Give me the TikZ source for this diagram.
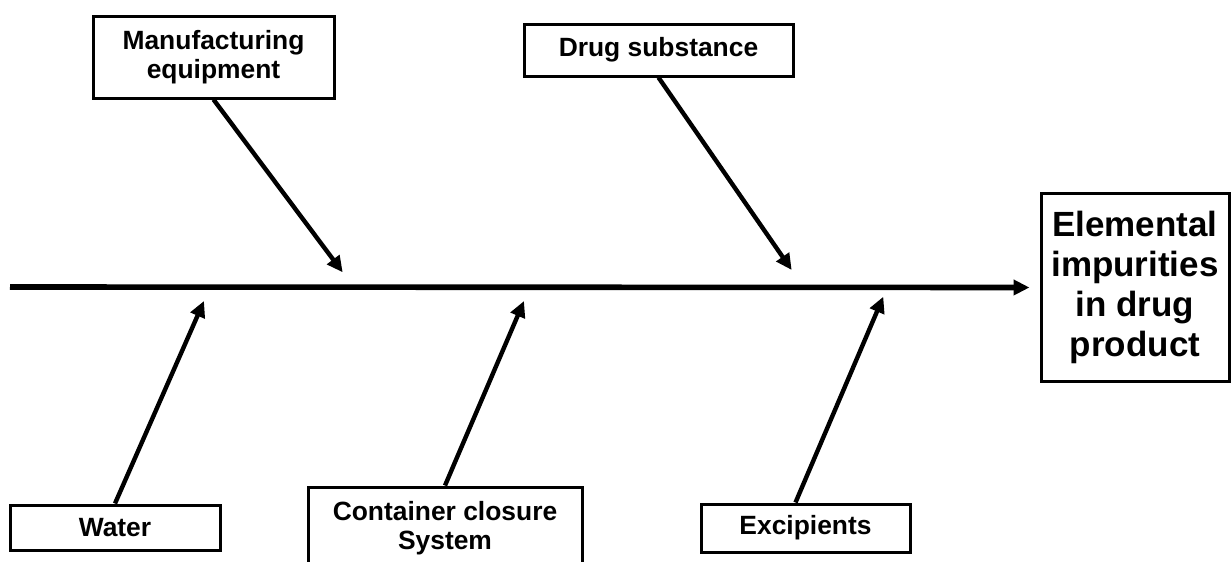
\documentclass[tikz,border=0pt]{standalone}
\usepackage{fontspec}
\setmainfont{Liberation Sans}
\usetikzlibrary{arrows.meta}

\begin{document}
\begin{tikzpicture}[x=0.5pt,y=-0.5pt,>={Triangle[length=8pt,width=7.5pt]},
 cause/.style={draw,line width=1.5pt,align=center,inner sep=0pt,font=\bfseries\fontsize{13.2}{14.8}\selectfont},
 effect/.style={draw,line width=1.5pt,align=center,inner sep=0pt,minimum width=94pt,minimum height=94pt,font=\bfseries\fontsize{17.5}{20}\selectfont}]
 \clip (0,0) rectangle (1232,562);

 \node[effect] (ei) at (1135,287.5) {Elemental\\impurities\\in drug\\product};
 \coordinate (tail) at (10,287);

 \node[cause,minimum width=120.5pt,minimum height=41pt] (mfg) at (213.5,57) {Manufacturing\\equipment};
 \node[cause,minimum width=134.5pt,minimum height=26pt] (drug) at (658.5,50) {Drug substance};
 \node[cause,minimum width=105pt,minimum height=22.5pt] (water) at (115,527.5) {Water};
 \node[cause,minimum width=137pt,minimum height=41pt] (ccs) at (445,528) {Container closure\\System};
 \node[cause,minimum width=104.5pt,minimum height=24pt] (exc) at (805.5,528) {Excipients};

 \coordinate (mfgtip) at (342.7,272.3);
 \coordinate (drugtip) at (791.7,270);
 \coordinate (watertip) at (204,301);
 \coordinate (ccstip) at (524,301);
 \coordinate (exctip) at (883.3,296.7);

 \draw[->,line width=2.8pt,shorten >=5pt] (tail) -- (ei.west);

 \path[->,line width=2.2pt]
 (mfg.south) edge (mfgtip)
 (drug.south) edge (drugtip)
 (water.north) edge (watertip)
 (ccs.north) edge (ccstip)
 ([xshift=-5pt]exc.north) edge (exctip);
\end{tikzpicture}
\end{document}
